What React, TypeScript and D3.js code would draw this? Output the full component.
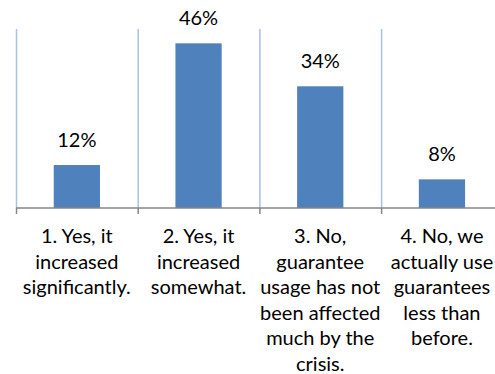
import React from "react";
import * as d3 from "d3";

const categories = ["1", "2", "3", "4"];
const values = [12, 46, 34, 8];
const valueLabels = ["12%", "46%", "34%", "8%"];
const categoryLines = [
  ["1. Yes, it", "increased", "significantly."],
  ["2. Yes, it", "increased", "somewhat."],
  ["3. No,", "guarantee", "usage has not", "been affected", "much by the", "crisis."],
  ["4. No, we", "actually use", "guarantees", "less than", "before."],
];

const W = 495;
const H = 374;
const left = 16;
const catW = 121.7;
const baseY = 208;
const topY = 29;

export default function App() {
  const x = d3
    .scaleBand<string>()
    .domain(categories)
    .range([left, left + catW * categories.length])
    .paddingInner(0.62)
    .paddingOuter(0.31);
  const y = d3.scaleLinear().domain([0, 50]).range([baseY, topY]);
  const font = "Lato, 'Open Sans', sans-serif";
  return (
    <svg
      width={W}
      height={H}
      style={{ position: "absolute", left: 0, top: 0, background: "#fff" }}
    >
      {categories.map((c, i) => (
        <line
          key={"g" + c}
          x1={left + catW * i + 0.5}
          x2={left + catW * i + 0.5}
          y1={topY}
          y2={baseY}
          stroke="#a7c0e6"
          strokeWidth={1.5}
        />
      ))}
      {categories.map((c, i) => (
        <rect
          key={"b" + c}
          x={x(c)}
          y={y(values[i])}
          width={x.bandwidth()}
          height={baseY - y(values[i])}
          fill="#4f81bd"
        />
      ))}
      <line x1={left} x2={W} y1={baseY} y2={baseY} stroke="#868686" strokeWidth={1.5} />
      {categories.map((c, i) => (
        <line
          key={"t" + c}
          x1={left + catW * i + 0.5}
          x2={left + catW * i + 0.5}
          y1={baseY}
          y2={baseY + 6}
          stroke="#868686"
          strokeWidth={1.5}
        />
      ))}
      {categories.map((c, i) => (
        <text
          key={"v" + c}
          x={(x(c) as number) + x.bandwidth() / 2}
          y={y(values[i]) - 18}
          textAnchor="middle"
          fontFamily={font}
          fontSize={20}
          fill="#000"
        >
          {valueLabels[i]}
        </text>
      ))}
      {categories.map((c, i) => (
        <text
          key={"c" + c}
          textAnchor="middle"
          fontFamily={font}
          fontSize={20}
          fill="#000"
        >
          {categoryLines[i].map((ln, j) => (
            <tspan key={j} x={left + catW * i + catW / 2} y={243 + j * 25.6}>
              {ln}
            </tspan>
          ))}
        </text>
      ))}
    </svg>
  );
}
